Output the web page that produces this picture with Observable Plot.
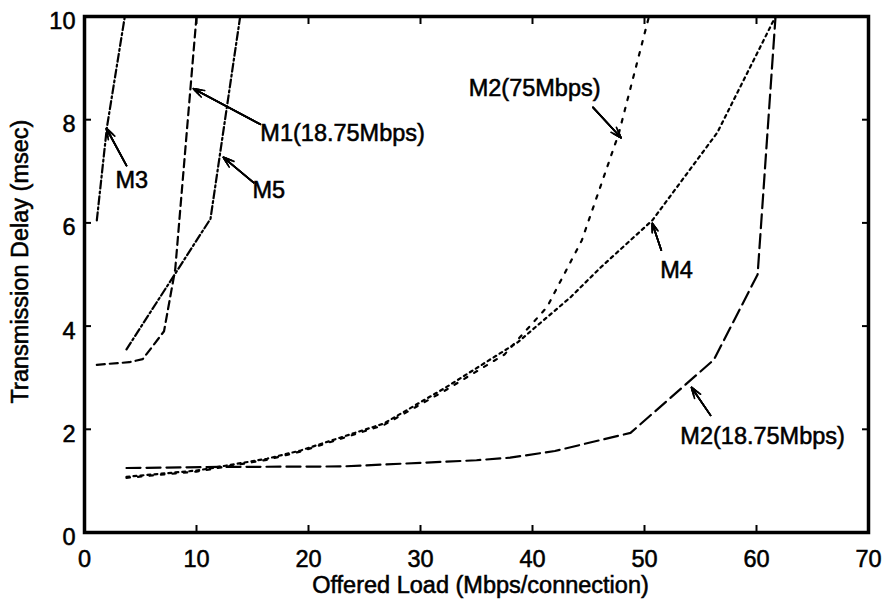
<!DOCTYPE html>
<html>
<head>
<meta charset="utf-8">
<script src="https://cdn.jsdelivr.net/npm/d3@7"></script>
<script src="https://cdn.jsdelivr.net/npm/@observablehq/plot@0.6"></script>
<style>
  html, body { margin: 0; padding: 0; background: #fff; }
  #chart svg text { stroke: #000; stroke-width: 0.55px; }
</style>
</head>
<body>
<div id="chart"></div>
<script>
// Axis ticks and titles
const xTicks = [0, 10, 20, 30, 40, 50, 60, 70];
const yTicks = [0, 2, 4, 6, 8, 10];
const xTitle = "Offered Load (Mbps/connection)";
const yTitle = "Transmission Delay (msec)";

// Series: offered load (Mbps/connection) vs transmission delay (msec)
const m1Load  = [1.1, 4.0, 5.2, 7.1, 8.1, 10.0];
const m1Delay = [3.25, 3.3, 3.36, 3.9, 5.1, 10];

const m2aLoad  = [3.75, 12, 23, 35, 38, 42, 48.75, 56.2, 60.1, 61.7];   // M2(18.75Mbps)
const m2aDelay = [1.25, 1.27, 1.28, 1.4, 1.45, 1.58, 1.93, 3.35, 5.0, 10];

const m2bLoad  = [3.75, 10, 16.3, 19.3, 26.7, 32.1, 37.5, 41.3, 44.4, 47.7, 50.4]; // M2(75Mbps)
const m2bDelay = [1.06, 1.18, 1.41, 1.57, 2.08, 2.74, 3.45, 4.37, 5.66, 7.73, 10];

const m3Load  = [1.1, 2.0, 3.6];
const m3Delay = [6.05, 7.85, 10];

const m4Load  = [3.75, 10, 16.3, 19.3, 26.7, 32.1, 38.7, 43.4, 46.1, 50.7, 56.5, 61.7];
const m4Delay = [1.08, 1.2, 1.43, 1.59, 2.11, 2.79, 3.69, 4.56, 5.14, 6.05, 7.75, 10];

const m5Load  = [3.75, 11.25, 13.9];
const m5Delay = [3.55, 6.08, 10];

// Annotations
const labelText = ["M3", "M1(18.75Mbps)", "M5", "M2(75Mbps)", "M4", "M2(18.75Mbps)"];
const labelX    = [2.77, 15.7, 15.0, 34.3, 51.4, 53.2];
const labelY    = [6.82, 7.74, 6.63, 8.6, 5.08, 1.86];
const arrowX1   = [3.75, 15.7, 15.1, 45.4, 51.5, 55.9];
const arrowY1   = [7.11, 7.91, 6.78, 8.24, 5.47, 2.27];
const arrowX2   = [1.96, 9.73, 12.4, 47.9, 50.7, 54.2];
const arrowY2   = [7.83, 8.6, 7.27, 7.65, 5.99, 2.81];

const zip = (xs, ys) => xs.map((x, i) => ({x, y: ys[i]}));
const series = [
  {data: zip(m1Load, m1Delay), dash: "8,5"},
  {data: zip(m2aLoad, m2aDelay), dash: "14,6"},
  {data: zip(m2bLoad, m2bDelay), dash: "3.5,8"},
  {data: zip(m3Load, m3Delay), dash: "8,3,2,3"},
  {data: zip(m4Load, m4Delay), dash: "3,4"},
  {data: zip(m5Load, m5Delay), dash: "8,3,2,3"}
];
const labels = labelText.map((t, i) => ({t, x: labelX[i], y: labelY[i]}));
const arrows = labelText.map((t, i) => ({x1: arrowX1[i], y1: arrowY1[i], x2: arrowX2[i], y2: arrowY2[i]}));

// filled-looking arrowheads: nested heads of decreasing length
const headLengths = [10, 7.5, 5, 2.5];

const chart = Plot.plot({
  width: 889,
  height: 600,
  marginTop: 16,
  marginRight: 21,
  marginBottom: 68,
  marginLeft: 84,
  x: {domain: [0, 70]},
  y: {domain: [0, 10]},
  style: {fontFamily: "'Liberation Sans', Arial, Helvetica, sans-serif", fontSize: "23.5px", color: "black", background: "white"},
  marks: [
    ...series.map(s => Plot.line(s.data, {x: "x", y: "y", stroke: "black", strokeWidth: 2.2, strokeDasharray: s.dash})),
    // inward ticks on all four sides
    Plot.axisX({ticks: xTicks, tickSize: -7, tickFormat: () => "", label: null, strokeWidth: 2}),
    Plot.axisX({anchor: "top", ticks: xTicks, tickSize: -7, tickFormat: () => "", label: null, strokeWidth: 2}),
    Plot.axisY({ticks: yTicks, tickSize: -7, tickFormat: () => "", label: null, strokeWidth: 2}),
    Plot.axisY({anchor: "right", ticks: yTicks, tickSize: -7, tickFormat: () => "", label: null, strokeWidth: 2}),
    // tick labels
    Plot.axisX({ticks: xTicks, tickSize: 0, tickPadding: 18, tickFormat: d => String(d), label: null}),
    Plot.axisY({ticks: yTicks, tickSize: 0, tickPadding: 9, dy: 5, tickFormat: d => String(d), label: null}),
    Plot.frame({strokeWidth: 3.5}),
    ...headLengths.map(h => Plot.arrow(arrows, {x1: "x1", y1: "y1", x2: "x2", y2: "y2", stroke: "black", strokeWidth: 1.7, headLength: h, headAngle: 38})),
    Plot.text(labels, {x: "x", y: "y", text: "t", textAnchor: "start", lineAnchor: "middle", fill: "black"}),
    Plot.text([xTitle], {frameAnchor: "bottom", lineAnchor: "top", dy: 44, dx: 4, fill: "black"}),
    Plot.text([yTitle], {frameAnchor: "left", rotate: -90, dx: -64, dy: -13, lineAnchor: "middle", textAnchor: "middle", fill: "black"})
  ]
});
document.getElementById("chart").appendChild(chart);
</script>
</body>
</html>
